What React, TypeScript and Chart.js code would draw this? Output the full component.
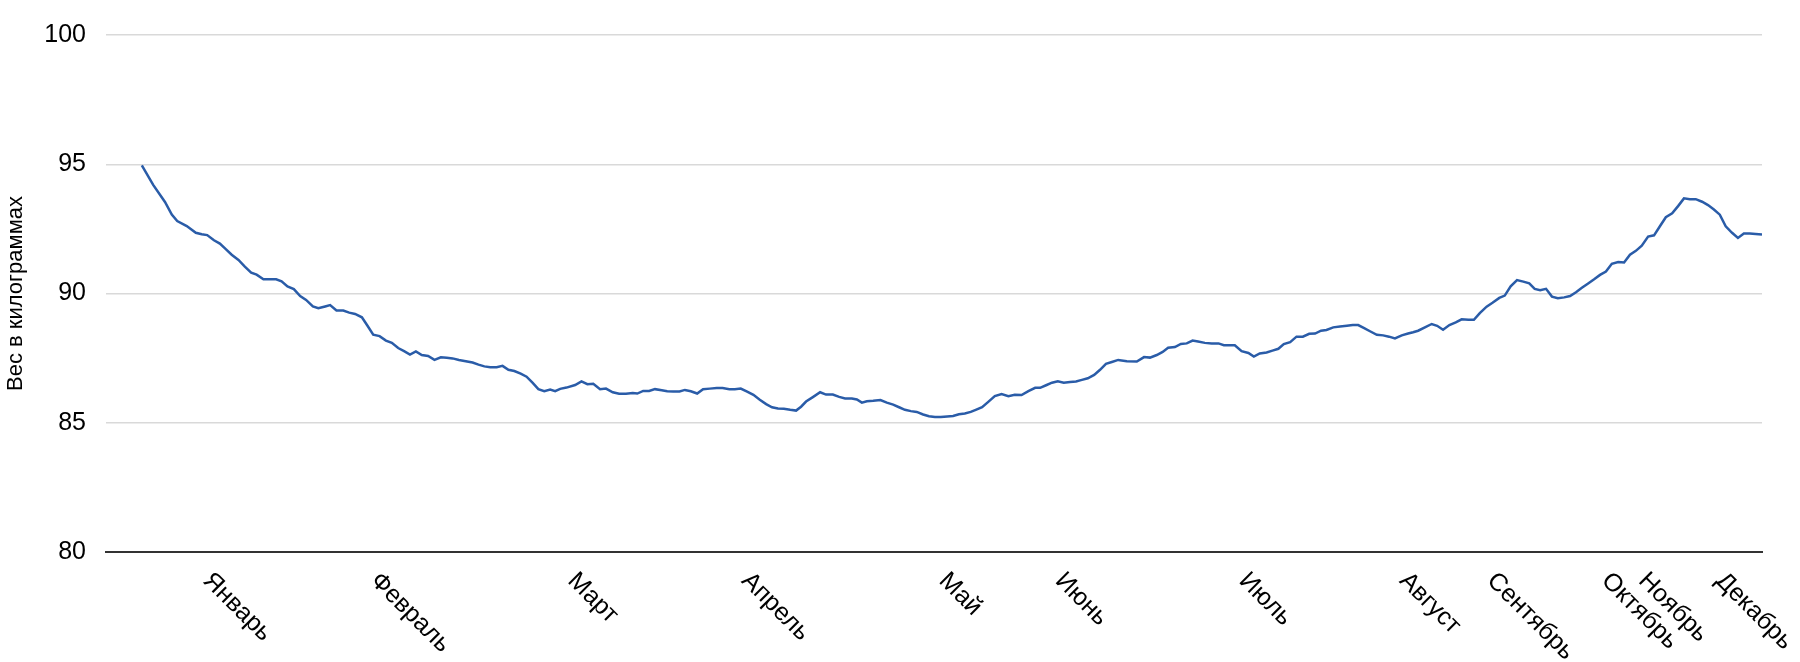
import { useEffect, useRef } from 'react'
import { Chart, registerables } from 'chart.js'

Chart.register(...registerables)

// day of year for each weighing, and the weight in kg
const days = [
  7.9, 10.4, 13.0, 14.5, 15.7, 17.8, 19.8, 21.1, 22.3, 23.8,
  25.1, 26.4, 27.7, 29.2, 30.6, 32.0, 33.2, 34.7, 36.1, 37.5,
  38.7, 40.0, 41.4, 42.8, 44.1, 45.6, 46.8, 48.3, 49.4, 50.8,
  52.3, 53.6, 54.9, 56.4, 57.6, 58.9, 60.3, 61.7, 63.0, 64.4,
  65.7, 67.0, 68.3, 69.6, 71.0, 72.4, 73.8, 75.1, 76.4, 77.8,
  79.3, 80.8, 82.1, 83.4, 84.7, 86.1, 87.4, 88.7, 90.0, 91.4,
  92.7, 94.0, 95.3, 96.6, 97.9, 99.0, 100.1, 101.5, 103.4, 104.8,
  106.1, 107.4, 108.9, 110.2, 111.7, 113.1, 114.6, 116.1, 117.1, 118.4,
  119.7, 121.0, 122.5, 123.7, 125.0, 126.4, 127.6, 128.9, 130.3, 131.6,
  133.1, 134.6, 135.9, 137.4, 138.6, 139.9, 141.2, 142.7, 144.1, 145.5,
  146.8, 148.1, 149.4, 150.8, 152.1, 153.2, 154.3, 155.8, 157.4, 158.7,
  160.2, 161.6, 162.9, 164.4, 165.5, 166.6, 167.7, 169.1, 170.7, 172.1,
  173.5, 174.8, 176.1, 177.4, 178.7, 180.1, 181.4, 182.7, 184.0, 185.4,
  186.7, 188.0, 189.3, 190.6, 191.7, 193.1, 194.4, 195.9, 197.4, 198.9,
  200.3, 201.8, 203.3, 204.8, 205.9, 207.2, 208.5, 209.8, 211.1, 212.5,
  213.8, 215.1, 216.4, 217.8, 219.1, 220.4, 221.7, 223.1, 225.0, 227.2,
  228.8, 230.1, 231.6, 232.9, 234.1, 235.6, 236.9, 238.2, 239.5, 240.7,
  242.2, 243.7, 245.2, 246.4, 247.7, 248.8, 250.3, 251.8, 253.0, 254.3,
  255.8, 257.1, 258.4, 259.6, 261.0, 262.4, 263.8, 265.2, 266.5, 267.8,
  269.0, 270.5, 272.0, 273.5, 274.8, 276.0, 277.1, 278.6, 280.1, 281.5,
  282.8, 284.1, 285.6, 287.0, 288.1, 289.2, 290.7, 292.2, 293.4, 294.7,
  296.1, 297.5, 298.8, 300.3, 301.5, 302.8, 304.3, 305.6, 307.1, 308.3,
  309.6, 311.0, 312.4, 313.7, 314.9, 316.1, 317.4, 318.7, 320.0, 321.4,
  322.7, 324.0, 325.3, 326.6, 328.0, 329.3, 330.6, 331.9, 333.3, 334.6,
  335.9, 337.2, 338.5, 339.9, 341.2, 342.5, 343.8, 345.2, 346.5, 347.8,
  349.1, 350.4, 351.8, 353.1, 354.4, 355.7, 357.0, 358.4, 359.7, 361.0,
  362.3, 363.6, 365.0,
]

const weights = [
  94.96, 94.2, 93.54, 93.05, 92.8, 92.61, 92.35, 92.29, 92.26, 92.06,
  91.93, 91.72, 91.5, 91.3, 91.04, 90.81, 90.73, 90.55, 90.55, 90.55,
  90.47, 90.27, 90.17, 89.9, 89.75, 89.5, 89.43, 89.5, 89.55, 89.34,
  89.34, 89.26, 89.21, 89.08, 88.76, 88.41, 88.35, 88.18, 88.09, 87.89,
  87.77, 87.64, 87.76, 87.62, 87.58, 87.43, 87.53, 87.51, 87.49, 87.43,
  87.38, 87.33, 87.25, 87.18, 87.15, 87.15, 87.2, 87.05, 87.0, 86.9,
  86.78, 86.55, 86.3, 86.22, 86.28, 86.22, 86.31, 86.36, 86.46, 86.6,
  86.49, 86.51, 86.3, 86.32, 86.18, 86.12, 86.12, 86.15, 86.13, 86.23,
  86.23, 86.3, 86.26, 86.22, 86.21, 86.21, 86.27, 86.22, 86.13, 86.3,
  86.32, 86.34, 86.34, 86.3, 86.3, 86.32, 86.21, 86.08, 85.89, 85.72,
  85.6, 85.55, 85.54, 85.5, 85.47, 85.62, 85.82, 85.99, 86.18, 86.09,
  86.09, 86.0, 85.94, 85.94, 85.9, 85.78, 85.83, 85.85, 85.88, 85.78,
  85.7, 85.6, 85.5, 85.45, 85.42, 85.32, 85.25, 85.22, 85.22, 85.24,
  85.26, 85.33, 85.36, 85.42, 85.5, 85.6, 85.8, 86.03, 86.11, 86.03,
  86.08, 86.07, 86.22, 86.35, 86.35, 86.45, 86.55, 86.6, 86.55, 86.58,
  86.6, 86.66, 86.72, 86.85, 87.05, 87.28, 87.35, 87.43, 87.38, 87.37,
  87.54, 87.52, 87.62, 87.74, 87.9, 87.93, 88.05, 88.07, 88.18, 88.14,
  88.09, 88.07, 88.07, 88.0, 88.0, 88.0, 87.77, 87.7, 87.56, 87.68,
  87.72, 87.79, 87.86, 88.04, 88.12, 88.33, 88.33, 88.44, 88.45, 88.56,
  88.59, 88.69, 88.72, 88.75, 88.78, 88.78, 88.68, 88.54, 88.4, 88.38,
  88.33, 88.26, 88.38, 88.45, 88.5, 88.56, 88.69, 88.82, 88.75, 88.6,
  88.78, 88.88, 89.0, 88.98, 88.98, 89.24, 89.49, 89.64, 89.83, 89.92,
  90.28, 90.52, 90.46, 90.39, 90.18, 90.13, 90.18, 89.88, 89.82, 89.85,
  89.9, 90.05, 90.22, 90.38, 90.55, 90.72, 90.85, 91.15, 91.22, 91.2,
  91.5, 91.65, 91.85, 92.2, 92.25, 92.6, 92.95, 93.1, 93.38, 93.68,
  93.65, 93.65, 93.55, 93.42, 93.25, 93.05, 92.6, 92.35, 92.15, 92.32,
  92.32, 92.3, 92.28,
]

// month ticks (day of year where each label starts)
const monthNames = ['Январь', 'Февраль', 'Март', 'Апрель', 'Май', 'Июнь', 'Июль', 'Август', 'Сентябрь', 'Октябрь', 'Ноябрь', 'Декабрь']
const monthTicks = [24.2, 61.1, 104.6, 142.9, 186.4, 212.0, 252.5, 287.9, 307.2, 332.4, 340.6, 357.6]

const FONT = '"Liberation Sans", Arial, Helvetica, sans-serif'

// rotated month labels, text starts at the tick and runs down to the right
const monthLabels = {
  id: 'monthLabels',
  afterDraw(chart: any) {
    const { ctx } = chart
    const x = chart.scales.x
    ctx.save()
    ctx.font = `25px ${FONT}`
    ctx.fillStyle = '#000'
    ctx.textAlign = 'left'
    ctx.textBaseline = 'top'
    monthNames.forEach((name, i) => {
      ctx.save()
      ctx.translate(x.getPixelForValue(monthTicks[i]), x.top + 16)
      ctx.rotate(Math.PI / 4)
      ctx.fillText(name, 0, 0)
      ctx.restore()
    })
    ctx.restore()
  },
}

export default function App() {
  const chartRef = useRef<HTMLCanvasElement>(null)
  const chartInstance = useRef<Chart | null>(null)

  useEffect(() => {
    if (!chartRef.current) return
    if (chartInstance.current) chartInstance.current.destroy()

    chartInstance.current = new Chart(chartRef.current, {
      type: 'line',
      data: {
        datasets: [
          {
            label: 'Вес',
            data: days.map((d, i) => ({ x: d, y: weights[i] })),
            borderColor: '#2a5ca8',
            borderWidth: 2.5,
            pointRadius: 0,
            fill: false,
            tension: 0,
          },
        ],
      },
      options: {
        animation: false,
        responsive: true,
        maintainAspectRatio: false,
        layout: { padding: { top: 27, right: 38, left: 0, bottom: 0 } },
        plugins: {
          legend: { display: false },
          tooltip: { enabled: false },
        },
        scales: {
          x: {
            type: 'linear',
            min: 0,
            max: 365,
            grid: { display: false },
            border: { display: true, color: '#333333', width: 2 },
            ticks: { display: false },
            afterFit: (scale: any) => {
              scale.height = 110
            },
          },
          y: {
            min: 80,
            max: 100,
            border: { display: false },
            grid: {
              drawTicks: false,
              lineWidth: 1.5,
              color: (c: any) => (c.tick && c.tick.value === 80 ? 'rgba(0,0,0,0)' : '#d9d9d9'),
            },
            ticks: {
              stepSize: 5,
              padding: 20,
              color: '#000',
              font: { family: FONT, size: 25 },
            },
            title: {
              display: true,
              text: 'Вес в килограммах',
              color: '#000',
              font: { family: FONT, size: 22 },
              padding: { top: 3, bottom: 0 },
            },
            afterFit: (scale: any) => {
              scale.width = 106
            },
          },
        },
      },
      plugins: [monthLabels],
    })

    return () => {
      if (chartInstance.current) {
        chartInstance.current.destroy()
        chartInstance.current = null
      }
    }
  }, [])

  return (
    <div style={{ position: 'absolute', left: 0, top: 0, width: 1800, height: 662, background: '#fff' }}>
      <canvas ref={chartRef} />
    </div>
  )
}
